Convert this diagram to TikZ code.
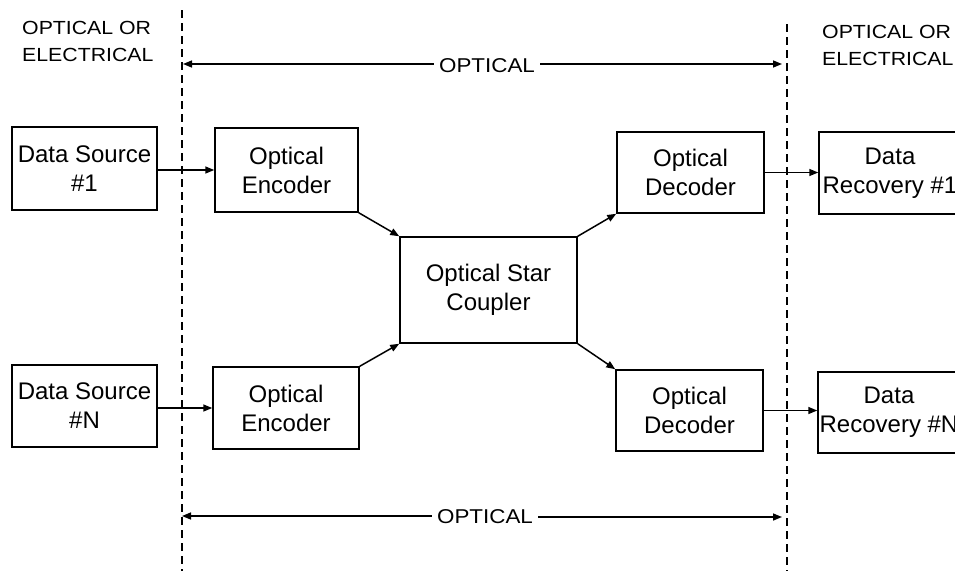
\documentclass[tikz,border=0pt]{standalone}
\usepackage{fontspec}
\setmainfont{Liberation Sans}
\newfontfamily\labfont[FakeStretch=1.12]{Liberation Sans}
\usetikzlibrary{arrows.meta}
\tikzset{
  box/.style={draw, line width=1.5pt, align=center, inner sep=0pt,
    font=\fontsize{24}{29}\selectfont},
  arr/.style={line width=1.5pt, -{Triangle[length=9pt,width=7pt]}},
  divider/.style={line width=1.3pt, dash pattern=on 8pt off 5pt},
  lab/.style={inner sep=0pt, align=left, font=\labfont\fontsize{19}{27}\selectfont},
  midlab/.style={inner sep=5pt, font=\labfont\fontsize{20}{24}\selectfont}
}
\begin{document}
\begin{tikzpicture}[x=1pt,y=-1pt]
\useasboundingbox (0,0) rectangle (955,571);
\clip (0,0) rectangle (955,571);
\fill[white] (0,0) rectangle (955,571);

% dashed dividers
\coordinate (d1t) at (182,10);
\coordinate (d1b) at (182,571);
\coordinate (d2t) at (787,24);
\coordinate (d2b) at (787,571);
\draw[divider] (d1t) -- (d1b);
\draw[divider] (d2t) -- (d2b);

% corner labels (anchored at the baseline of the last line)
\node[lab, anchor=base west] (lleft) at (22,61) {OPTICAL OR\\ELECTRICAL};
\node[lab, anchor=base west] (lright) at (822,65) {OPTICAL OR\\ELECTRICAL};

% boxes
\node[box, minimum width=145pt, minimum height=83pt] (ds1) at (84.5,168.5) {Data Source\\\#1};
\node[box, minimum width=145pt, minimum height=82pt] (dsN) at (84.5,406) {Data Source\\\#N};
\node[box, minimum width=143pt, minimum height=84pt] (oe1) at (286.5,170) {Optical\\Encoder};
\node[box, minimum width=146pt, minimum height=82pt] (oeN) at (286,408) {Optical\\Encoder};
\node[box, minimum width=177pt, minimum height=106pt] (star) at (488.5,290) {Optical Star\\Coupler};
\node[box, minimum width=147pt, minimum height=81pt] (od1) at (690.5,172.5) {Optical\\Decoder};
\node[box, minimum width=147pt, minimum height=81pt] (odN) at (689.5,410.5) {Optical\\Decoder};
\node[box, minimum width=142pt, minimum height=82pt] (dr1) at (890,173) {Data\\Recovery \#1};
\node[box, minimum width=142pt, minimum height=81pt] (drN) at (889,412.5) {Data\\Recovery \#N};

% connectors
\draw[arr] (ds1.east |- oe1.west) -- (oe1.west);
\draw[arr] (dsN.east |- oeN.west) -- (oeN.west);
\draw[arr] (oe1.south east) -- (star.north west);
\draw[arr] (oeN.north east) -- (star.south west);
\draw[arr] (star.north east) -- (od1.south west);
\draw[arr] (star.south east) -- (odN.north west);
\draw[arr] (od1.east) -- (od1.east -| dr1.west);
\draw[arr] (odN.east) -- (odN.east -| drN.west);

% optical span arrows
\coordinate (tl) at (183,64);
\coordinate (tr) at (782,64);
\node[midlab] (topopt) at (487,66) {OPTICAL};
\draw[arr] (topopt.west |- tl) -- (tl);
\draw[arr] (topopt.east |- tr) -- (tr);

\coordinate (bl) at (182,516);
\coordinate (br) at (782,517);
\node[midlab] (botopt) at (485,517) {OPTICAL};
\draw[arr] (botopt.west |- bl) -- (bl);
\draw[arr] (botopt.east |- br) -- (br);
\end{tikzpicture}
\end{document}
